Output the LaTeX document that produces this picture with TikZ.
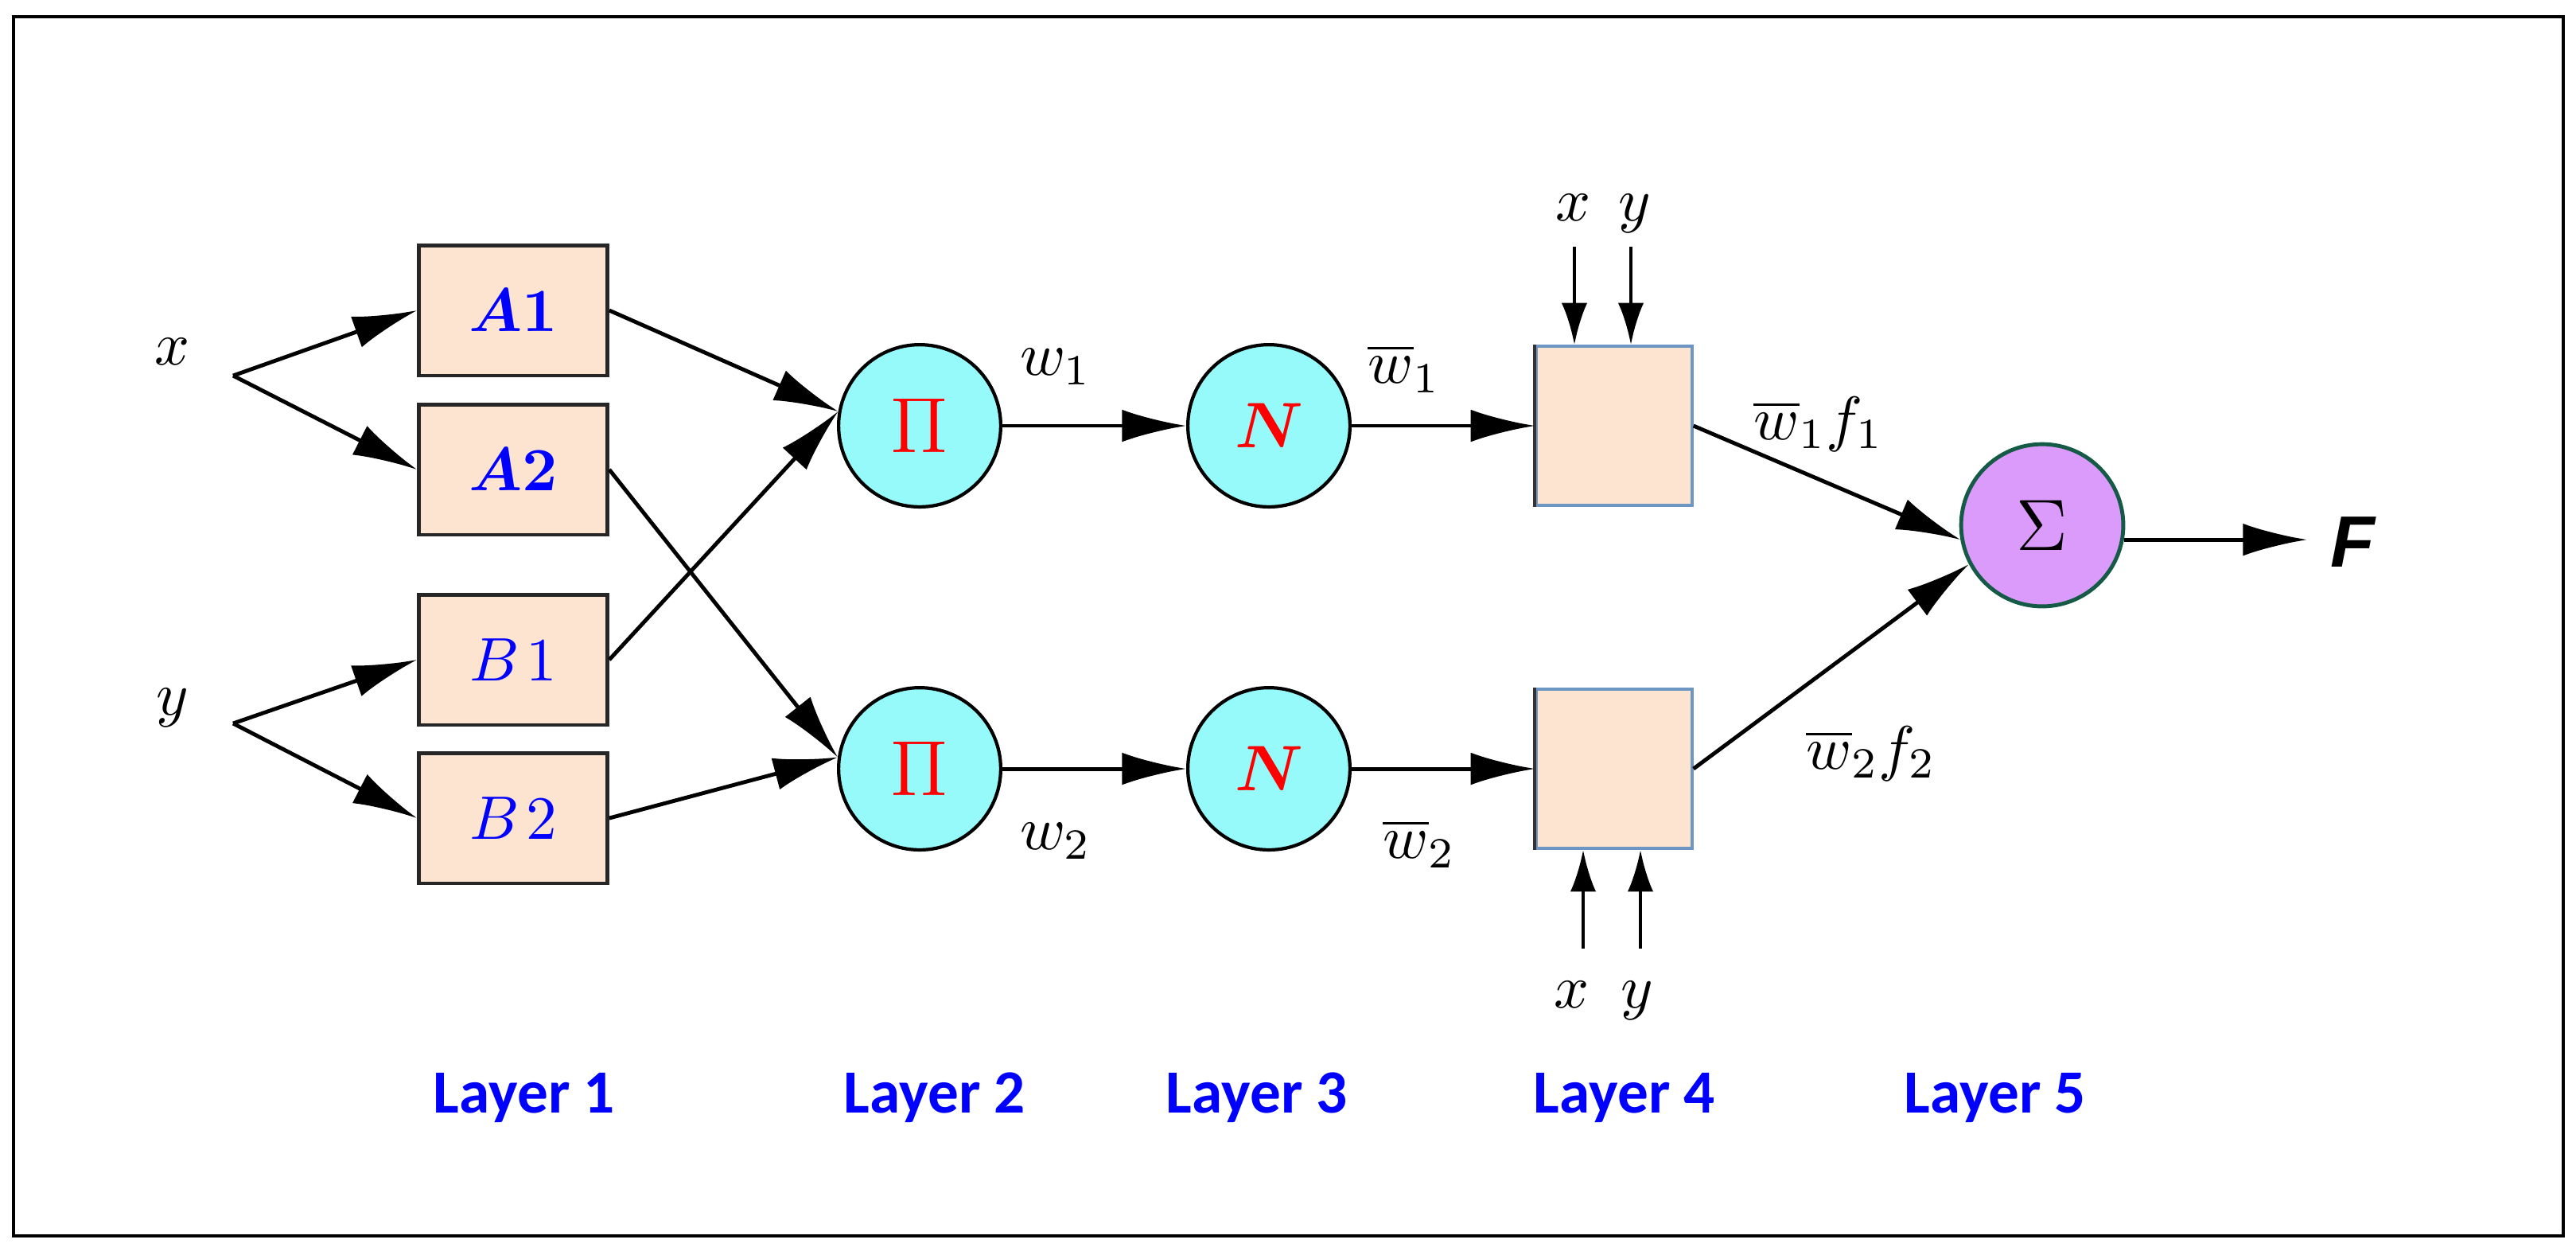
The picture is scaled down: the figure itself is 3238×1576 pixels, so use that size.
\RequirePackage{fix-cm}
\documentclass[tikz,border=0pt]{standalone}
\usepackage{amsmath,bm}
\usepackage{fontspec}
\newfontfamily\layerfont{Carlito}
\newfontfamily\ffont{Liberation Sans}
\usetikzlibrary{arrows.meta}
\definecolor{peach}{RGB}{253,228,208}
\definecolor{cyanfill}{RGB}{150,250,250}
\definecolor{lav}{RGB}{218,155,250}
\definecolor{boxedge}{RGB}{110,150,195}
\definecolor{sigedge}{RGB}{20,90,70}
\begin{document}
\begin{tikzpicture}[x=0.005cm,y=-0.005cm,
  arr/.style={draw, line width=0.7pt, -{Latex[length=11.5pt,width=5.8pt]}},
  sarr/.style={draw, line width=0.7pt, -{Latex[length=7.5pt,width=4.6pt]}},
  fbox/.style={rectangle, draw=black!85, line width=0.7pt, fill=peach, minimum width=1.185cm, minimum height=0.82cm, inner sep=0pt},
  lfour/.style={rectangle, draw=boxedge, line width=0.5pt, fill=peach, minimum width=0.98cm, minimum height=1cm, inner sep=0pt},
  neuron/.style={circle, draw=black, line width=0.6pt, fill=cyanfill, minimum size=1.02cm, inner sep=0pt},
  lab/.style={inner sep=0pt, font=\fontsize{11}{13}\selectfont},
  layer/.style={inner sep=0pt, text=blue, font=\layerfont\bfseries\fontsize{11}{13}\selectfont}]
\useasboundingbox (0,0) rectangle (3238,1576);
\draw[line width=0.6pt] (17,21) rectangle (3222,1553);

% inputs
\node[lab, anchor=base] (xl) at (217,458) {$x$};
\node[lab, anchor=base] (yl) at (217,898) {$y$};
\coordinate (xs) at (293,472);
\coordinate (ys) at (293,909);

% layer 1
\node[fbox, font=\fontsize{11}{13}\selectfont] (A1) at (645,390) {$\color{blue}\bm{A1}$};
\node[fbox, font=\fontsize{11}{13}\selectfont] (A2) at (645,590) {$\color{blue}\bm{A2}$};
\node[fbox, font=\fontsize{11}{13}\selectfont] (B1) at (645,829) {$\color{blue}B\mkern2mu 1$};
\node[fbox, font=\fontsize{11}{13}\selectfont] (B2) at (645,1028) {$\color{blue}B\mkern2mu 2$};

% layer 2
\node[neuron, font=\fontsize{14}{16}\selectfont] (P1) at (1156,535) {$\color{red}\Pi$};
\node[neuron, font=\fontsize{14}{16}\selectfont] (P2) at (1156,966) {$\color{red}\Pi$};

% layer 3
\node[neuron, font=\fontsize{11.5}{13}\selectfont] (N1) at (1595,535) {$\color{red}\bm{N}$};
\node[neuron, font=\fontsize{11.5}{13}\selectfont] (N2) at (1595,966) {$\color{red}\bm{N}$};

% layer 4
\node[lfour] (T) at (2029,535) {};
\node[lfour] (U) at (2029,966) {};
\draw[line width=0.6pt, black!80] (T.north west) -- (T.south west);
\draw[line width=0.6pt, black!80] (U.north west) -- (U.south west);

% layer 5
\node[circle, draw=sigedge, line width=0.7pt, fill=lav, minimum size=1.02cm, inner sep=0pt, font=\fontsize{13}{15}\selectfont] (S) at (2567,660) {$\Sigma$};
\node[anchor=west, inner xsep=4pt, inner ysep=0pt, font=\ffont\bfseries\itshape\fontsize{13}{15}\selectfont] (F) at (2900,681) {F};

% labels
\node[lab] (w1) at (1327,461) {$w_1$};
\node[lab] (w2) at (1327,1057) {$w_2$};
\node[lab] (wb1) at (1765,463) {$\overline{w}_1$};
\node[lab] (wb2) at (1784,1060) {$\overline{w}_2$};
\node[lab] (wf1) at (2286,533) {$\overline{w}_1 f_1$};
\node[lab] (wf2) at (2352,947) {$\overline{w}_2 f_2$};

\node[lab, anchor=base] (tx) at (1978,277) {$x$};
\node[lab, anchor=base] (ty) at (2055,277) {$y$};
\node[lab, anchor=base] (bx) at (1976,1266) {$x$};
\node[lab, anchor=base] (by) at (2058,1266) {$y$};
\coordinate (tx1) at (1979,310);
\coordinate (ty1) at (2050,310);
\coordinate (bx1) at (1990,1192);
\coordinate (by1) at (2062,1192);

% layer captions
\node[layer] (L1) at (659,1379) {Layer 1};
\node[layer] (L2) at (1175,1379) {Layer 2};
\node[layer] (L3) at (1580,1379) {Layer 3};
\node[layer] (L4) at (2042,1379) {Layer 4};
\node[layer] (L5) at (2508,1379) {Layer 5};

% connectors
\draw[arr] (xs) -- (A1.west);
\draw[arr] (xs) -- (A2.west);
\draw[arr] (ys) -- (B1.west);
\draw[arr] (ys) -- (B2.west);
\draw[arr] (A1.east) -- (P1.170);
\draw[arr] (B1.east) -- (P1.170);
\draw[arr] (A2.east) -- (P2.172);
\draw[arr] (B2.east) -- (P2.172);
\draw[arr] (P1.east) -- (N1.west);
\draw[arr] (P2.east) -- (N2.west);
\draw[arr] (N1.east) -- (T.west);
\draw[arr] (N2.east) -- (U.west);
\draw[arr] (T.east) -- (S.190);
\draw[arr] (U.east) -- (S.208);
\draw[arr] (S.350) -- (S.350 -| F.west);
\draw[sarr] (tx1) -- (tx1 |- T.north);
\draw[sarr] (ty1) -- (ty1 |- T.north);
\draw[sarr] (bx1) -- (bx1 |- U.south);
\draw[sarr] (by1) -- (by1 |- U.south);
\end{tikzpicture}
\end{document}
